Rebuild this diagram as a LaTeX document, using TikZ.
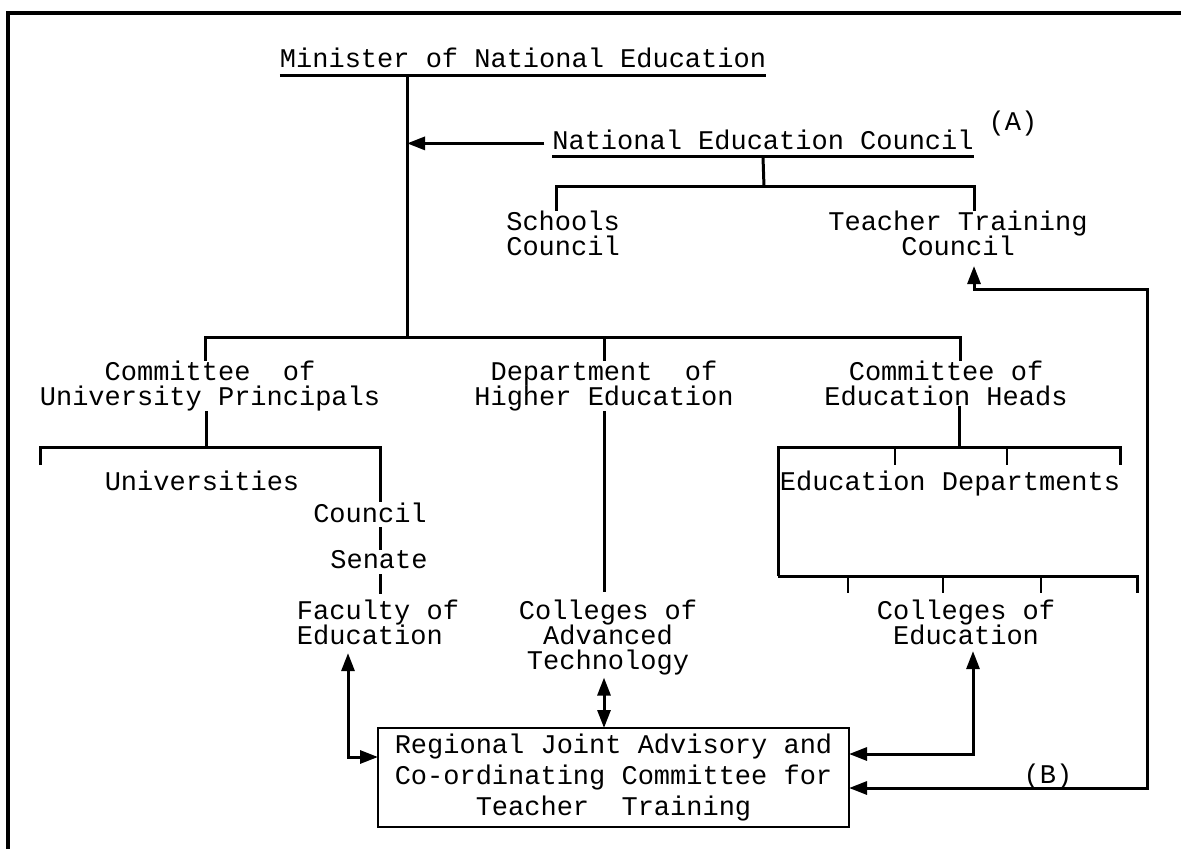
\documentclass[tikz,border=0pt]{standalone}
\usepackage{fontspec}
\newfontfamily\plotter{Liberation Mono}
\usetikzlibrary{arrows.meta}
\begin{document}
\begin{tikzpicture}[x=0.5pt,y=-0.5pt,
  txt/.style={font=\plotter\fontsize{13.5}{12.6}\selectfont, inner sep=0pt, outer sep=0pt},
  ml/.style={txt, align=center, anchor=north},
  sl/.style={txt, anchor=base},
  ln/.style={line width=1.5pt},
  tick/.style={line width=0.9pt},
  border/.style={line width=2pt},
  arr/.style={ln, -{Triangle[length=9pt,width=6.5pt]}},
  dbl/.style={ln, {Triangle[length=9pt,width=6.5pt]}-{Triangle[length=9pt,width=6.5pt]}},
  jbox/.style={draw, line width=1.3pt, inner sep=0pt, outer sep=0pt, align=center,
    font=\plotter\fontsize{13.5}{15.5}\selectfont,
    minimum width=235.5pt, minimum height=49.5pt},
]
\useasboundingbox (0,0) rectangle (1181,849);
% frame
\draw[border] (1181,13) -- (8,13) -- (8,849);

% minister
\node[sl] (min) at (523,68) {Minister of National Education};
\draw[ln] ([yshift=-4pt]min.base west) -- ([yshift=-4pt]min.base east);
\coordinate (mj) at (407,76);
\coordinate (mb) at (407,338);
\draw[ln] (mj) -- (mb);

% national education council
\node[sl] (nec) at (763,150) {National Education Council};
\draw[ln] ([yshift=-3.5pt]nec.base west) -- ([yshift=-3.5pt]nec.base east);
\coordinate (neca) at ([xshift=-4pt,yshift=-1.5pt]nec.west);
\draw[arr] (neca) -- (neca -| mj);
\node[sl] (A) at (1013,131) {(A)};

\node[ml] (sch) at (563,211) {Schools\\Council};
\node[ml] (ttc) at (958,211) {Teacher Training\\Council};
\coordinate (necj) at (764,187);
\draw[ln] ([yshift=-3.5pt]nec.base) -- (necj);
\draw[ln] (sch.north -| 556,0) |- (necj) -| (ttc.north -| 974,0);

% second level
\node[ml] (cup) at (210,361) {Committee~~of\\University Principals};
\node[ml] (dept) at (604,361) {Department~~of\\Higher Education};
\node[ml] (ceh) at (946,361) {Committee of\\Education Heads};
\draw[ln] (cup.north -| 205,0) |- (mb) -| (ceh.north -| 960,0);
\draw[ln] (mb -| 604,0) -- (dept.north -| 604,0);

% universities branch
\node[sl] (univ) at (202,490) {Universities};
\node[sl] (coun) at (370,522) {Council};
\node[sl] (sen) at (379,568) {Senate};
\node[ml, align=left] (fac) at (378,600) {Faculty of\\Education};
\coordinate (cj) at (206,447);
\draw[ln] (cup.south -| cj) -- (cj);
\draw[ln] (40,465) |- (cj) -| (coun.north -| 380,0);
\draw[ln, shorten <=2.5pt] (coun.south -| 380,0) -- (sen.north -| 380,0);
\draw[ln, shorten <=3pt, shorten >=3pt] (sen.south -| 380,0) -- (fac.north -| 380,0);

% department branch
\node[ml] (cat) at (608,600) {Colleges of\\Advanced\\Technology};
\draw[ln, shorten >=4pt] (dept.south -| 604,0) -- (cat.north -| 604,0);

% education departments
\node[sl] (edd) at (950,490) {Education Departments};
\coordinate (eb) at (959,447);
\draw[ln] (ceh.south -| eb) -- (eb);
\draw[ln] (778,576) -- (778,447) -- (1120,447) -- (1120,465);
\draw[tick] (895,447) -- (895,465);
\draw[tick] (1007,447) -- (1007,465);
\draw[ln] (778,576) -- (1137,576) -- (1137,593);
\draw[tick] (848,576) -- (848,593);
\draw[tick] (943,576) -- (943,593);
\draw[tick] (1041,576) -- (1041,593);
\node[ml] (coe) at (966,600) {Colleges of\\Education};

% regional committee
\node[jbox] (rj) at (613.5,777.5) {Regional Joint Advisory and\\Co-ordinating Committee for\\Teacher~~Training};
\draw[dbl, shorten <=4pt] (fac.south -| 348,0) |- (rj.west |- 0,757);
\draw[dbl, shorten <=1pt] (cat.south -| 604,0) -- (rj.north -| 604,0);
\draw[dbl, shorten <=3pt] (coe.south -| 973,0) |- (rj.east |- 0,754);
\draw[dbl, shorten <=5pt] (ttc.south -| 974,0) |- (1147,290) |- (rj.east |- 0,788);
\node[sl] (B) at (1048,783) {(B)};
\end{tikzpicture}
\end{document}
